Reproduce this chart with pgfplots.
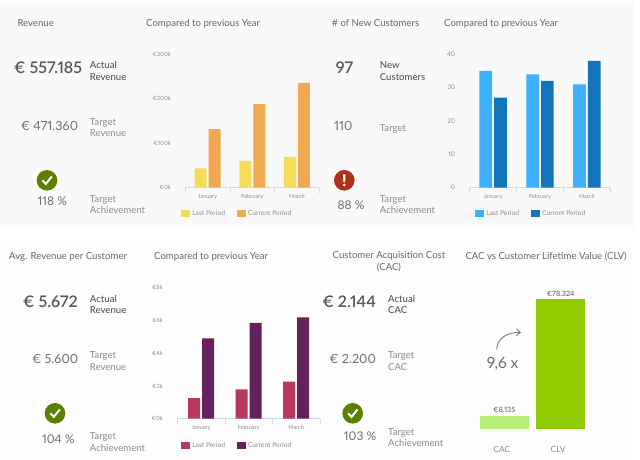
\documentclass[border=0pt]{standalone}
\usepackage{fontspec}
\setmainfont{Lato}[Numbers=Proportional]
\newfontfamily\med[Numbers=Proportional]{Lato Semibold}
\newfontfamily\medl[Numbers=Proportional]{Lato Medium}
\usepackage{pgfplots}
\pgfplotsset{compat=1.18}
\usetikzlibrary{arrows.meta}

\definecolor{panel}{HTML}{F9F9F9}
\definecolor{panelb}{HTML}{FDFDFD}
\definecolor{titlec}{HTML}{666666}
\definecolor{darkc}{HTML}{555555}
\definecolor{softc}{HTML}{8A8A8A}
\definecolor{tickc}{HTML}{8C8C8C}
\definecolor{axisc}{HTML}{CCDBEC}
\definecolor{okc}{HTML}{5B7F00}
\definecolor{badc}{HTML}{B03018}
\definecolor{yel}{HTML}{F5DC55}
\definecolor{ora}{HTML}{F2A84F}
\definecolor{lblue}{HTML}{3DB0FF}
\definecolor{dblue}{HTML}{1275BB}
\definecolor{rose}{HTML}{B53A5E}
\definecolor{plum}{HTML}{66215A}
\definecolor{lgreen}{HTML}{B5EE73}
\definecolor{dgreen}{HTML}{8FCB00}

\pgfplotsset{
  kpi/.style={
    scale only axis, ybar=2pt, bar width=12pt,
    xmin=-0.5, xmax=2.5, ymin=0,
    xtick={-0.5,0.5,1.5,2.5}, x tick label as interval,
    xticklabels={January,February,March},
    axis x line=bottom, axis y line=left,
    axis line style={draw=axisc, line width=0.6pt, -},
    y axis line style={draw=none},
    x tick style={draw=axisc, line width=0.6pt},
    y tick style={draw=none},
    tick align=outside, major tick length=5pt,
    xticklabel style={font=\fontsize{5.6}{6}\selectfont, text=tickc, yshift=2pt},
    yticklabel style={font=\fontsize{5.8}{6}\selectfont, text=tickc, xshift=-6pt},
    clip=false,
    legend columns=2,
    legend cell align=left,
    legend style={draw=none, fill=none, inner sep=0pt, outer sep=0pt,
      font=\fontsize{6.7}{7}\selectfont, text=tickc,
      /tikz/every even column/.append style={column sep=10pt}},
    legend image code/.code={\path[##1,draw=none] (0pt,-3.2pt) rectangle (9pt,3.2pt);},
  },
}

% text at reference pixels
\newcommand\tx[5][west]{\node[anchor=#1,inner sep=0pt,text=#2,text height=1.5ex,text depth=0.25ex,font=#3] at (#4) {#5};}
\newcommand\twol[6]{\tx{#1}{#2}{#3,-#4}{#5}\tx{#1}{#2}{#3,-#4-11.7}{#6}}
\newcommand\okicon[2]{%
  \fill[okc] (#1,-#2) circle (10.3);
  \draw[white,line width=2pt] (#1-4.6,-#2) -- (#1-1.2,-#2-3.6) -- (#1+4.8,-#2+3.8);}
\newcommand\badicon[2]{%
  \fill[badc] (#1,-#2) circle (10.3);
  \fill[white] (#1-1.3,-#2+6) -- (#1+1.3,-#2+6) -- (#1+0.8,-#2-1.8) -- (#1-0.8,-#2-1.8) -- cycle;
  \fill[white] (#1,-#2-4.6) circle (1.5);}
\def\ttl{\fontsize{9.6}{10}\selectfont}
\def\lab{\fontsize{9.6}{10}\selectfont}
\def\labd{\medl\fontsize{9.6}{10}\selectfont}
\def\bigf{\med\fontsize{16}{18}\selectfont}
\def\midf{\fontsize{12.6}{14}\selectfont}
\def\pct{\fontsize{12}{13}\selectfont}

\begin{document}
\begin{tikzpicture}[x=1pt,y=1pt]
\path[use as bounding box] (0,0) rectangle (640,-460);
\fill[white] (0,0) rectangle (640,-460);
\fill[panel] (0,-3.5) rectangle (634,-227.5);
\fill[panelb] (0,-237) rectangle (634,-460);

% panel 1
\tx{titlec}{\ttl}{17.3,-23.3}{Revenue}
\tx{titlec}{\ttl}{146,-23.3}{Compared to previous Year}
\tx[east]{darkc}{\bigf}{82.3,-70.7}{€ 557.185}
\twol{darkc}{\labd}{89.7}{65.7}{Actual}{Revenue}
\tx[east]{darkc!85}{\midf}{78.3,-127}{€ 471.360}
\twol{softc}{\lab}{89.7}{122}{Target}{Revenue}
\okicon{47}{180.3}
\tx[center]{darkc!85}{\pct}{52.3,-202.7}{118 \%}
\twol{softc}{\lab}{89.7}{199}{Target}{Achievement}

% panel 2
\tx{titlec}{\ttl}{331.7,-23.3}{\# of New Customers}
\tx{titlec}{\ttl}{444,-23.3}{Compared to previous Year}
\tx[east]{darkc}{\bigf}{353.3,-70.7}{97}
\twol{darkc}{\labd}{379.7}{65.7}{New}{Customers}
\tx[east]{darkc!85}{\midf}{352.7,-127}{110}
\tx{softc}{\lab}{379.7,-128}{Target}
\badicon{344.3}{180.3}
\tx[center]{darkc!85}{\pct}{351,-206.7}{88 \%}
\twol{softc}{\lab}{379.7}{199}{Target}{Achievement}

% panel 3
\tx{titlec}{\ttl}{9,-256.7}{Avg. Revenue per Customer}
\tx{titlec}{\ttl}{154,-256.7}{Compared to previous Year}
\tx[east]{darkc}{\bigf}{78,-304}{€ 5.672}
\twol{darkc}{\labd}{89.7}{299}{Actual}{Revenue}
\tx[east]{darkc!85}{\midf}{78.3,-360.3}{€ 5.600}
\twol{softc}{\lab}{89.7}{355.3}{Target}{Revenue}
\okicon{55}{413.3}
\tx[center]{darkc!85}{\pct}{58.3,-440}{104 \%}
\twol{softc}{\lab}{89.7}{436.3}{Target}{Achievement}

% panel 4
\tx[center]{titlec}{\ttl}{389,-255}{Customer Acquisition Cost}
\tx[center]{titlec}{\ttl}{389,-267.3}{(CAC)}
\tx{titlec}{\ttl}{465.3,-256.7}{CAC vs Customer Lifetime Value (CLV)}
\tx[east]{darkc}{\bigf}{376,-304}{€ 2.144}
\twol{darkc}{\labd}{388}{299}{Actual}{CAC}
\tx[east]{darkc!85}{\midf}{376,-360.3}{€ 2.200}
\twol{softc}{\lab}{388}{355.3}{Target}{CAC}
\okicon{352.7}{413.3}
\tx[center]{darkc!85}{\pct}{360,-437.3}{103 \%}
\twol{softc}{\lab}{388}{432}{Target}{Achievement}
\tx[center]{darkc!85}{\fontsize{15.5}{16}\selectfont}{502.7,-365}{9,6 x}
\draw[darkc!85,line width=0.8pt,-{Straight Barb[length=4pt,width=7pt]}] (496.7,-349.3) .. controls (497,-338) and (508,-332) .. (521,-332.5);

% revenue
\begin{axis}[kpi, at={(185.3pt,-187.7pt)}, anchor=south west, width=134pt, height=133.4pt,
  ymax=300, ytick={0,100,200,300}, yticklabels={€0k,€100k,€200k,€300k},
  legend style={at={(-0.03,-0.192)},anchor=west}]
\addplot[fill=yel,draw=none] coordinates {(0,43.5)(1,60.6)(2,69.6)};
\addplot[fill=ora,draw=none] coordinates {(0,132)(1,188)(2,235.6)};
\legend{Last Period,Current Period}
\end{axis}

% new customers
\begin{axis}[kpi, at={(469.7pt,-187.7pt)}, anchor=south west, width=140.6pt, height=133.4pt,
  bar width=12.7pt,
  ymax=40, ytick={0,10,20,30,40}, yticklabels={0,10,20,30,40},
  yticklabel style={font=\fontsize{6.4}{7}\selectfont},
  legend style={at={(0.04,-0.192)},anchor=west}]
\addplot[fill=lblue,draw=none] coordinates {(0,35)(1,34)(2,31)};
\addplot[fill=dblue,draw=none] coordinates {(0,27)(1,32)(2,38)};
\legend{Last Period,Current Period}
\end{axis}

% avg revenue per customer
\begin{axis}[kpi, at={(177.3pt,-418.7pt)}, anchor=south west, width=142.7pt, height=131pt,
  ymax=8, ytick={0,2,4,6,8}, yticklabels={€0k,€2k,€4k,€6k,€8k},
  legend style={at={(0.028,-0.205)},anchor=west}]
\addplot[fill=rose,draw=none] coordinates {(0,1.26)(1,1.79)(2,2.26)};
\addplot[fill=plum,draw=none] coordinates {(0,4.9)(1,5.86)(2,6.19)};
\legend{Last Period,Current Period}
\end{axis}

% CAC vs CLV
\begin{axis}[scale only axis, at={(476.2pt,-429pt)}, anchor=south west, width=112.6pt, height=129.7pt,
  ybar, bar width=48.7pt, bar shift=0pt,
  xmin=-0.5, xmax=1.5, ymin=0, ymax=78324,
  xtick={0,1}, xticklabels={CAC,CLV}, ytick=\empty,
  axis line style={draw=none}, x tick style={draw=none},
  xticklabel style={font=\fontsize{8.4}{9}\selectfont, text=softc, yshift=-10pt, xshift=-2.5pt},
  clip=false,
  nodes near coords, point meta=explicit symbolic,
  every node near coord/.append style={font=\fontsize{7.2}{8}\selectfont, text=darkc, inner sep=3pt}]
\addplot[fill=lgreen,draw=none] coordinates {(0,8135)[€8.135]};
\addplot[fill=dgreen,draw=none] coordinates {(1,78324)[€78.324]};
\end{axis}
\end{tikzpicture}
\end{document}
